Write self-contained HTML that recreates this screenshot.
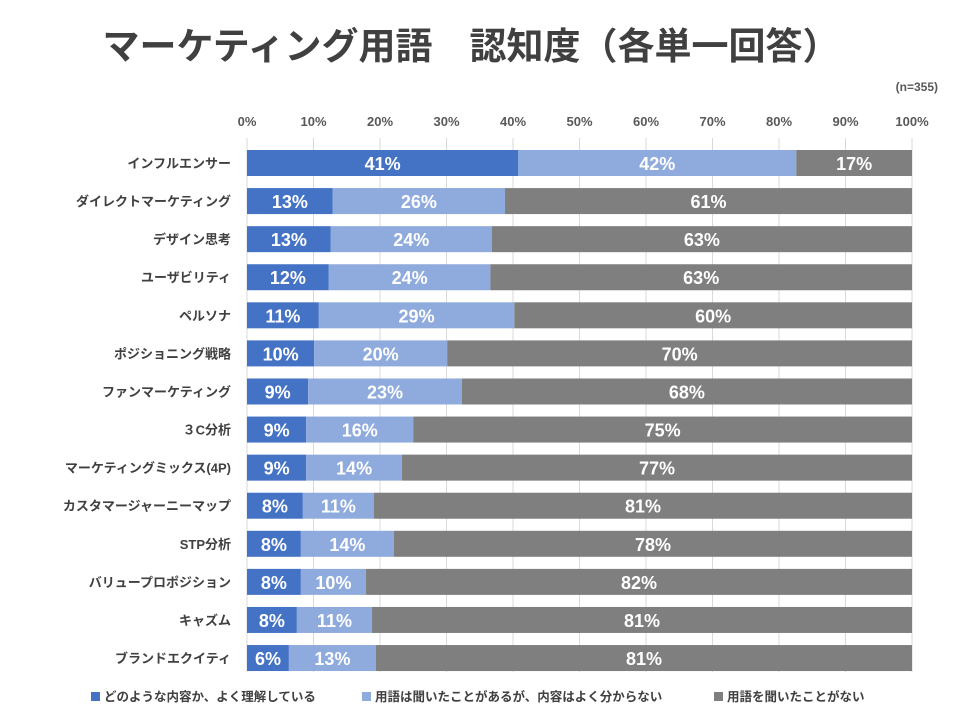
<!DOCTYPE html>
<html><head><meta charset="utf-8">
<style>
body{margin:0;background:#fff;width:960px;height:720px;overflow:hidden;font-family:"Liberation Sans","Noto Sans CJK JP",sans-serif;}
svg text{font-family:"Liberation Sans","Noto Sans CJK JP",sans-serif;}
</style></head><body>
<svg id="chart" width="960" height="720">
<text x="471" y="59" text-anchor="middle" font-size="37" font-weight="bold" fill="#404040">マーケティング用語　認知度（各単一回答）</text>
<text x="938" y="91" text-anchor="end" font-size="12" font-weight="bold" fill="#595959">(n=355)</text>
<g id="grid"></g><g id="bars"></g><g id="legend"></g>
</svg>
<script>
const categories=["インフルエンサー","ダイレクトマーケティング","デザイン思考","ユーザビリティ","ペルソナ","ポジショニング戦略","ファンマーケティング","３C分析","マーケティングミックス(4P)","カスタマージャーニーマップ","STP分析","バリュープロポジション","キャズム","ブランドエクイティ"];
const known=[40.8,12.9,12.6,12.3,10.8,10.1,9.2,8.9,8.9,8.4,8.1,8.1,7.5,6.3];
const heard=[41.8,25.9,24.2,24.3,29.4,20.0,23.1,16.1,14.4,10.7,14.0,9.8,11.3,13.1];
const never=[17.4,61.2,63.2,63.4,59.8,69.9,67.7,75.0,76.7,80.9,77.9,82.1,81.2,80.6];
const ticks=[0,10,20,30,40,50,60,70,80,90,100];
const seriesNames=["どのような内容か、よく理解している","用語は聞いたことがあるが、内容はよく分からない","用語を聞いたことがない"];
const colors=["#4472C4","#8FAADC","#7F7F7F"];
const NS="http://www.w3.org/2000/svg";
const x=v=>247+v*6.65;
const y=i=>163+i*38.08;
function mk(t,a,p){const e=document.createElementNS(NS,t);for(const k in a)e.setAttribute(k,a[k]);p.appendChild(e);return e;}
const grid=document.getElementById('grid'),bars=document.getElementById('bars'),leg=document.getElementById('legend');
ticks.forEach(t=>{
 const l=mk('line',{x1:x(t),x2:x(t),y1:138,y2:672,stroke:'#D9D9D9','stroke-width':1},grid);
 
 
 const tx=mk('text',{x:x(t),y:126,'text-anchor':'middle','font-size':13,'font-weight':'bold',fill:'#595959'},grid);
 tx.textContent=t+'%';
 
 
});
const series=[known,heard,never];
categories.forEach((c,i)=>{
 const cy=y(i);
 const lb=mk('text',{x:231,y:cy+5,'text-anchor':'end','font-size':13,'font-weight':'bold',fill:'#404040'},bars);
 lb.textContent=c;
 
 
 let acc=0;
 series.forEach((s,k)=>{
  const v=s[i];
  const r=mk('rect',{x:x(acc),y:cy-13,width:x(acc+v)-x(acc),height:26,fill:colors[k]},bars);
  
  
  const t=mk('text',{x:(x(acc)+x(acc+v))/2,y:cy+7,'text-anchor':'middle','font-size':18,'font-weight':'bold',fill:'#fff'},bars);
  t.textContent=Math.round(v)+'%';
  
  
  acc+=v;
 });
});
const lx=[91,362,714];
seriesNames.forEach((n,k)=>{
 const r=mk('rect',{x:lx[k],y:692,width:9,height:9,fill:colors[k]},leg);
 
 
 const t=mk('text',{x:lx[k]+13,y:701,'font-size':12.5,'font-weight':'bold',fill:'#404040'},leg);
 t.textContent=n;
 
 
});
</script>
</body></html>
